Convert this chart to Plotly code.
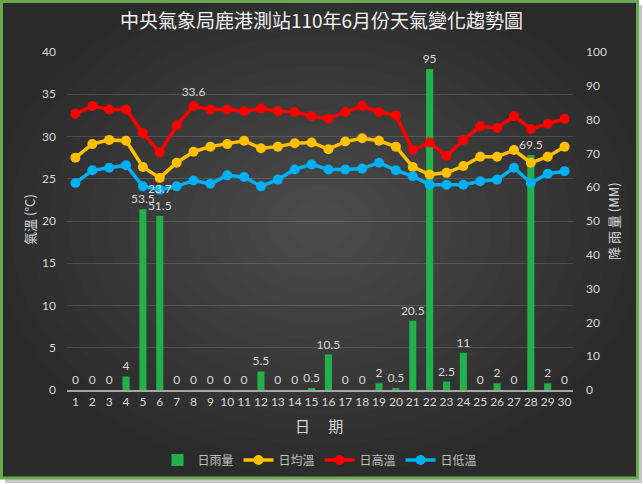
import plotly.graph_objects as go

# ── Data (June, year 110, Lukang station) ─────────────────────────────────────
DAYS = ["1", "2", "3", "4", "5", "6", "7", "8", "9", "10",
        "11", "12", "13", "14", "15", "16", "17", "18", "19", "20",
        "21", "22", "23", "24", "25", "26", "27", "28", "29", "30"]
RAIN = [0, 0, 0, 4, 53.5, 51.5, 0, 0, 0, 0,
        0, 5.5, 0, 0, 0.5, 10.5, 0, 0, 2, 0.5,
        20.5, 95, 2.5, 11, 0, 2, 0, 69.5, 2, 0]
T_AVG = [27.5, 29.1, 29.6, 29.5, 26.4, 25.1, 26.9, 28.2, 28.8, 29.1,
         29.5, 28.6, 28.8, 29.2, 29.3, 28.5, 29.4, 29.8, 29.5, 28.8,
         26.4, 25.5, 25.7, 26.5, 27.6, 27.6, 28.4, 26.9, 27.6, 28.8]
T_HIGH = [32.7, 33.6, 33.2, 33.2, 30.4, 28.1, 31.3, 33.6, 33.2, 33.2,
          33.0, 33.3, 33.0, 32.9, 32.4, 32.1, 32.9, 33.6, 32.9, 32.5,
          28.4, 29.3, 27.7, 29.6, 31.2, 31.0, 32.4, 30.9, 31.5, 32.1]
T_LOW = [24.5, 26.0, 26.3, 26.6, 24.1, 23.7, 24.1, 24.8, 24.4, 25.4,
         25.2, 24.1, 24.9, 26.1, 26.7, 26.1, 26.1, 26.2, 26.9, 26.0,
         25.3, 24.3, 24.3, 24.3, 24.7, 24.9, 26.3, 24.5, 25.6, 25.9]
HIGH_LABEL_DAY = "8"
LOW_LABEL_DAY = "6"

# ── Layout geometry (pixels) ──────────────────────────────────────────────────
W, H = 643, 484
L, R, T, B = 67, 573, 52, 390


def px_x(x):
    return (x - L) / (R - L)


def px_y(y):
    return (B - y) / (B - T)


FONT = "Lato, Noto Sans CJK TC, sans-serif"
CJK = "Noto Sans CJK TC"
TICK = "#d9d9d9"

fig = go.Figure()
fig.add_bar(
    x=DAYS, y=RAIN, name="日雨量", yaxis="y",
    width=0.42, marker=dict(color="#21b04b", line=dict(width=0)),
    text=[f"{v:g}" for v in RAIN], textposition="outside",
    constraintext="none", textfont=dict(color=TICK, size=12), cliponaxis=False,
)

line_style = dict(mode="lines+markers+text", yaxis="y2", cliponaxis=False,
                  textfont=dict(color=TICK, size=12))
fig.add_scatter(x=DAYS, y=T_AVG, name="日均溫",
                line=dict(color="#ffc000", width=3.5),
                marker=dict(size=10, color="#ffc000"), **line_style)
fig.add_scatter(x=DAYS, y=T_HIGH, name="日高溫",
                line=dict(color="#ff0000", width=3.5),
                marker=dict(size=10, color="#ff0000"),
                text=[f"{v}" if d == HIGH_LABEL_DAY else "" for d, v in zip(DAYS, T_HIGH)],
                textposition="top center", **line_style)
fig.add_scatter(x=DAYS, y=T_LOW, name="日低溫",
                line=dict(color="#00b0f0", width=3.5),
                marker=dict(size=10, color="#00b0f0"),
                text=[f"{v}" if d == LOW_LABEL_DAY else "" for d, v in zip(DAYS, T_LOW)],
                textposition="middle center", **line_style)

# background frame: dark fill, soft radial glow, green border
shapes = [
    dict(type="rect", xref="paper", yref="paper", layer="below",
         x0=px_x(1.5), x1=px_x(637.5), y0=px_y(1.5), y1=px_y(478),
         fillcolor="#2a2a2a", line=dict(width=0)),
]
for k in range(16):
    f = 1 - k * 0.06
    rx, ry = 330 * f, 250 * f
    shapes.append(dict(type="circle", xref="paper", yref="paper", layer="below",
                       x0=px_x(320 - rx), x1=px_x(320 + rx),
                       y0=px_y(225 - ry), y1=px_y(225 + ry),
                       fillcolor="rgba(255,255,255,0.013)", line=dict(width=0)))
# trim the glow that spills past the frame
for x0, x1, y0, y1 in [(-20, 1.5, -20, 500), (637.5, 660, -20, 500),
                       (-20, 660, -20, 1.5), (-20, 660, 478, 500)]:
    shapes.append(dict(type="rect", xref="paper", yref="paper", layer="below",
                       x0=px_x(x0), x1=px_x(x1), y0=px_y(y0), y1=px_y(y1),
                       fillcolor="white", line=dict(width=0)))
# drop shadow on right and bottom
shapes.append(dict(type="rect", xref="paper", yref="paper", layer="below",
                   x0=px_x(637.5), x1=px_x(642), y0=px_y(5), y1=px_y(483),
                   fillcolor="rgba(0,0,0,0.22)", line=dict(width=0)))
shapes.append(dict(type="rect", xref="paper", yref="paper", layer="below",
                   x0=px_x(5), x1=px_x(637.5), y0=px_y(478), y1=px_y(483),
                   fillcolor="rgba(0,0,0,0.22)", line=dict(width=0)))
shapes.append(dict(type="rect", xref="paper", yref="paper", layer="below",
                   x0=px_x(1.5), x1=px_x(637.5), y0=px_y(1.5), y1=px_y(478),
                   fillcolor="rgba(0,0,0,0)", line=dict(color="#6aa84f", width=3)))

fig.update_layout(
    width=W, height=H,
    margin=dict(l=L, r=W - R, t=T, b=H - B, autoexpand=False),
    paper_bgcolor="white", plot_bgcolor="rgba(0,0,0,0)",
    font=dict(family=FONT, color=TICK),
    title=dict(text="中央氣象局鹿港測站110年6月份天氣變化趨勢圖",
               x=0.5, xanchor="center", y=1 - 21 / H, yanchor="middle",
               font=dict(size=19, color="#f2f2f2", family=CJK)),
    showlegend=True,
    legend=dict(orientation="h", x=0.5, xanchor="center",
                y=px_y(460), yanchor="middle", bgcolor="rgba(0,0,0,0)",
                font=dict(size=12, color="#bfbfbf", family=CJK),
                traceorder="normal", itemwidth=30),
    xaxis=dict(type="category", range=[-0.5, 29.5], showgrid=False,
               showline=True, linecolor="#a6a6a6", linewidth=1.5,
               ticks="", tickfont=dict(size=12, color=TICK)),
    yaxis=dict(side="right", range=[0, 100], dtick=10, showgrid=False,
               zeroline=False, ticks="", ticklabelstandoff=12,
               tickfont=dict(size=12, color=TICK)),
    yaxis2=dict(overlaying="y", side="left", range=[0, 40], dtick=5,
                showgrid=True, gridcolor="rgba(255,255,255,0.13)", gridwidth=1,
                zeroline=False, ticks="", ticklabelstandoff=10,
                tickfont=dict(size=12, color=TICK)),
    shapes=shapes,
    annotations=[
        dict(text="日　 期", xref="paper", yref="paper", x=px_x(319), y=px_y(425),
             xanchor="center", yanchor="middle", showarrow=False,
             font=dict(size=15, color=TICK, family=CJK)),
        dict(text="氣溫 (°C)", xref="paper", yref="paper", x=px_x(29), y=px_y(220),
             xanchor="center", yanchor="middle", textangle=-90, showarrow=False,
             font=dict(size=13, color=TICK, family=CJK)),
        dict(text="降 雨 量 (MM)", xref="paper", yref="paper", x=px_x(613), y=px_y(221),
             xanchor="center", yanchor="middle", textangle=-90, showarrow=False,
             font=dict(size=13, color=TICK, family=CJK)),
    ],
)

fig.write_html("out.html", config={"displayModeBar": False},
               post_script="document.body.style.margin='0';")
